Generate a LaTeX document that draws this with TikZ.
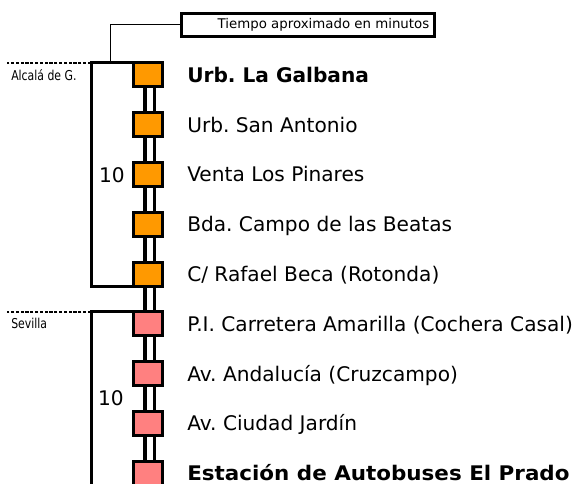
\documentclass[tikz,border=0pt]{standalone}
\usepackage{fontspec}
\setmainfont{DejaVu Sans}
\newfontfamily\smallf{DejaVu Sans}[FakeStretch=0.8]
\newfontfamily\wideb{DejaVu Sans Bold}[FakeStretch=1.065]
\definecolor{orsq}{HTML}{FF9900}
\definecolor{pksq}{HTML}{FF8080}
\frenchspacing
\begin{document}
\begin{tikzpicture}[x=0.75pt,y=-0.75pt,
  stopbox/.style={draw=black,line width=2.25pt,minimum width=21.75pt,minimum height=18pt,inner sep=0pt},
  orstop/.style={stopbox,fill=orsq},
  pkstop/.style={stopbox,fill=pksq},
  rail/.style={line width=2.5pt},
  bracket/.style={line width=2.25pt},
  dotline/.style={line width=2.2pt,dash pattern=on 2.4pt off 1.2pt},
  leader/.style={line width=0.75pt},
  lbl/.style={anchor=base west,inner sep=0pt,font=\fontsize{15.1pt}{16pt}\selectfont},
  blbl/.style={lbl,font=\fontsize{15.1pt}{16pt}\selectfont\bfseries},
  wblbl/.style={lbl,font=\wideb\fontsize{15.1pt}{16pt}\selectfont},
  num/.style={anchor=base east,inner sep=0pt,font=\fontsize{15.1pt}{16pt}\selectfont},
  zone/.style={anchor=base west,inner sep=0pt,font=\smallf\fontsize{10.2pt}{12pt}\selectfont},
  notebox/.style={draw=black,line width=2.25pt,minimum width=189.75pt,minimum height=17.6pt,inner sep=0pt}
]
\useasboundingbox (0,0) rectangle (575,484);
\clip (0,0) rectangle (575,484);

% stops
\node[orstop] (s1) at (148,75) {};
\node[orstop] (s2) at (148,124.8) {};
\node[orstop] (s3) at (148,174.6) {};
\node[orstop] (s4) at (148,224.4) {};
\node[orstop] (s5) at (148,274.2) {};
\node[pkstop] (s6) at (148,324) {};
\node[pkstop] (s7) at (148,373.8) {};
\node[pkstop] (s8) at (148,423.6) {};
\node[pkstop] (s9) at (148,473.4) {};

% rails between stops
\foreach \a/\b in {s1/s2,s2/s3,s3/s4,s4/s5,s5/s6,s6/s7,s7/s8,s8/s9}{
  \draw[rail] ([xshift=-2.25pt]\a.south) -- ([xshift=-2.25pt]\b.north);
  \draw[rail] ([xshift=4.75pt]\a.south) -- ([xshift=4.75pt]\b.north);
}

% labels
\node[blbl] (l1) at (187,82.3) {Urb. La Galbana};
\node[lbl] (l2) at (187,132.1) {Urb. San Antonio};
\node[lbl] (l3) at (187,181.9) {Venta Los Pinares};
\node[lbl] (l4) at (187,231.7) {Bda. Campo de las Beatas};
\node[lbl] (l5) at (187,281.5) {C/ Rafael Beca (Rotonda)};
\node[lbl] (l6) at (187,331.3) {P.I. Carretera Amarilla (Cochera Casal)};
\node[lbl] (l7) at (187,381.1) {Av. Andalucía (Cruzcampo)};
\node[lbl] (l8) at (187,430.9) {Av. Ciudad Jardín};
\node[wblbl] (l9) at (187,480.7) {Estación de Autobuses El Prado};

% travel times
\node[num] (t1) at (125,182.3) {10};
\node[num] (t2) at (124,405.5) {10};

% zone brackets
\coordinate (a1) at (91,63);
\coordinate (a2) at (91,286.2);
\coordinate (d1) at (7,63);
\draw[bracket] (s1.west |- a1) -- (a1) -- (a2) -- (s5.west |- a2);
\draw[dotline] (a1) -- (d1);
\node[zone] (z1) at (11,80.7) {Alcalá de G.};

\coordinate (b1) at (91,312);
\coordinate (b2) at (91,490);
\coordinate (e1) at (7,312);
\draw[bracket] (s6.west |- b1) -- (b1) -- (b2);
\draw[dotline] (b1) -- (e1);
\node[zone] (z2) at (11,329) {Sevilla};

% note box
\node[notebox] (nb) at (308,24.8) {};
\node[anchor=base east,inner sep=0pt,font=\fontsize{10pt}{12pt}\selectfont] (nt) at (429.5,28.5) {Tiempo aproximado en minutos};
\coordinate (lc) at (110,63);
\draw[leader] (nb.west) -| (lc);
\end{tikzpicture}
\end{document}
